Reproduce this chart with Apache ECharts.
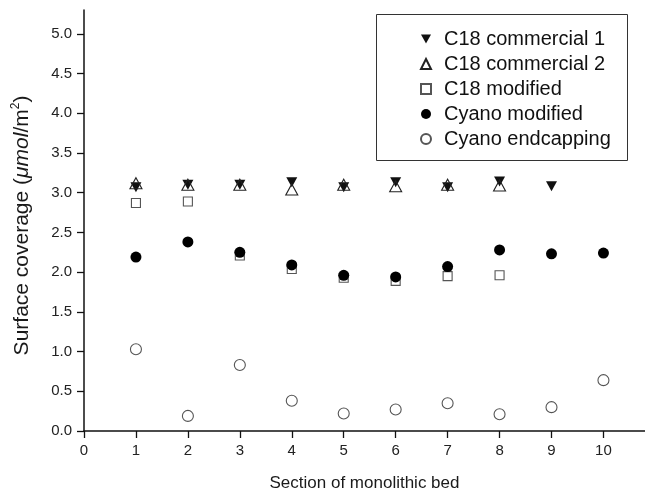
<!DOCTYPE html>
<html><head><meta charset="utf-8">
<script src="https://cdn.jsdelivr.net/npm/echarts@6/dist/echarts.min.js"></script>
<style>html,body{margin:0;padding:0;background:#fff;}#c{width:645px;height:494px;}</style>
</head><body><div id="c"></div>
<script>
const sections = [1, 2, 3, 4, 5, 6, 7, 8, 9, 10];
const c18Commercial1 = [3.07, 3.10, 3.10, 3.13, 3.07, 3.13, 3.07, 3.14, 3.08, null];
const c18Commercial2 = [3.12, 3.10, 3.10, 3.04, 3.10, 3.08, 3.10, 3.09, null, null];
const c18Modified = [2.87, 2.89, 2.21, 2.04, 1.93, 1.89, 1.95, 1.96, null, null];
const cyanoModified = [2.19, 2.38, 2.25, 2.09, 1.96, 1.94, 2.07, 2.28, 2.23, 2.24];
const cyanoEndcapping = [1.03, 0.19, 0.83, 0.38, 0.22, 0.27, 0.35, 0.21, 0.30, 0.64];
const xTicks = [0, 1, 2, 3, 4, 5, 6, 7, 8, 9, 10];
const yTicks = [0, 0.5, 1.0, 1.5, 2.0, 2.5, 3.0, 3.5, 4.0, 4.5, 5.0];

function pts(arr) {
  const out = [];
  arr.forEach((v, i) => { if (v !== null) out.push([sections[i], v]); });
  return out;
}
const FONT = 'Liberation Sans, Arial, sans-serif';
const chart = echarts.init(document.getElementById('c'), null, {renderer: 'canvas'});
const downTri = 'path://M0,0 L10,0 L5,9 Z';
chart.setOption({
  animation: false,
  backgroundColor: '#fff',
  textStyle: {fontFamily: FONT},
  grid: {left: 84, right: 0, top: 10, bottom: 63, containLabel: false, outerBoundsMode: 'none'},
  xAxis: {
    type: 'value', min: 0, max: 10.8, interval: 1,
    name: 'Section of monolithic bed', nameLocation: 'middle', nameGap: 44,
    nameTextStyle: {fontSize: 17, color: '#1a1a1a', fontFamily: FONT},
    axisLine: {show: true, lineStyle: {color: '#111', width: 1.5}},
    axisTick: {show: true, length: 7, lineStyle: {color: '#111', width: 1.3}, customValues: xTicks},
    axisLabel: {fontSize: 15, color: '#222', margin: 12, customValues: xTicks, fontFamily: FONT},
    splitLine: {show: false}
  },
  yAxis: {
    type: 'value', min: 0, max: 5.3, interval: 0.5,
    name: '{a|Surface coverage (}{i|μmol}{a|/m}{s|2}{a|)}',
    nameLocation: 'middle', nameGap: 50, nameRotate: 90,
    nameTextStyle: {
      fontSize: 21, color: '#1a1a1a', fontFamily: FONT, padding: [0, 10, 0, 0],
      rich: {
        a: {fontSize: 21, color: '#1a1a1a', fontFamily: FONT, lineHeight: 24},
        i: {fontSize: 21, color: '#1a1a1a', fontFamily: FONT, fontStyle: 'italic', lineHeight: 24},
        s: {fontSize: 12, color: '#1a1a1a', fontFamily: FONT, verticalAlign: 'top', lineHeight: 24}
      }
    },
    axisLine: {show: true, lineStyle: {color: '#111', width: 1.5}},
    axisTick: {show: true, length: 7, lineStyle: {color: '#111', width: 1.3}, customValues: yTicks},
    axisLabel: {fontSize: 15, color: '#222', margin: 12, customValues: yTicks, fontFamily: FONT,
      formatter: v => v.toFixed(1)},
    splitLine: {show: false}
  },
  graphic: [{
    type: 'rect', left: 376, top: 14, z: 10,
    shape: {width: 251, height: 146},
    style: {fill: '#fff', stroke: '#333', lineWidth: 1}
  }],
  legend: {
    left: 415, top: 24, orient: 'vertical', z: 20,
    itemWidth: 10, itemHeight: 10, itemGap: 5,
    textStyle: {fontSize: 20, color: '#111', fontFamily: FONT, padding: [0, 0, 0, 8], lineHeight: 20},
    data: [
      {name: 'C18 commercial 1', icon: downTri},
      {name: 'C18 commercial 2', icon: 'triangle'},
      {name: 'C18 modified', icon: 'rect'},
      {name: 'Cyano modified', icon: 'circle'},
      {name: 'Cyano endcapping', icon: 'circle'}
    ]
  },
  series: [
    {name: 'C18 commercial 1', type: 'scatter', data: pts(c18Commercial1), symbol: 'triangle', symbolRotate: 180,
      symbolSize: [11, 10], itemStyle: {color: '#111', opacity: 1}},
    {name: 'C18 commercial 2', type: 'scatter', data: pts(c18Commercial2), symbol: 'triangle',
      symbolSize: [12, 11], itemStyle: {color: 'rgba(255,255,255,0)', borderColor: '#222', borderWidth: 1.1, opacity: 1}},
    {name: 'C18 modified', type: 'scatter', data: pts(c18Modified), symbol: 'rect',
      symbolSize: 9, itemStyle: {color: '#fff', borderColor: '#555', borderWidth: 1.1, opacity: 1}},
    {name: 'Cyano modified', type: 'scatter', data: pts(cyanoModified), symbol: 'circle',
      symbolSize: 11, z: 3, itemStyle: {color: '#000', opacity: 1}},
    {name: 'Cyano endcapping', type: 'scatter', data: pts(cyanoEndcapping), symbol: 'circle',
      symbolSize: 11, itemStyle: {color: '#fff', borderColor: '#555', borderWidth: 1.1, opacity: 1}}
  ]
});
</script></body></html>
